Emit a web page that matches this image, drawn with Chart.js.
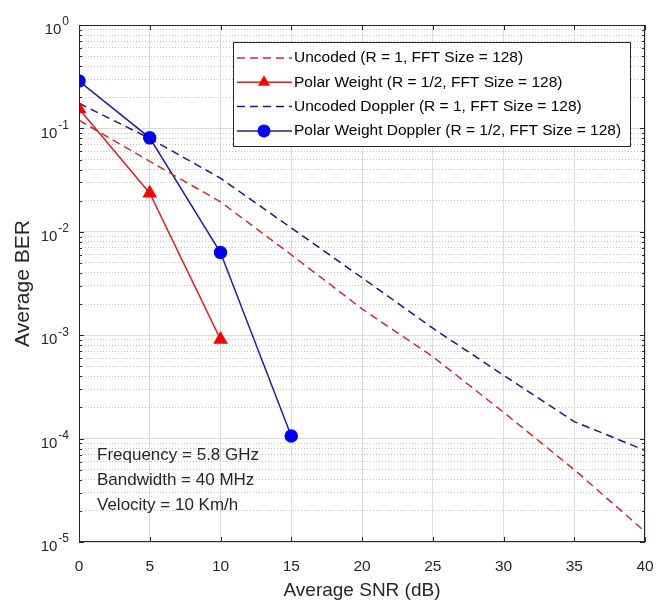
<!DOCTYPE html>
<html>
<head>
<meta charset="utf-8">
<script src="https://cdn.jsdelivr.net/npm/chart.js@4.4.0/dist/chart.umd.min.js"></script>
<style>
  body { margin: 0; background: #fff; }
  canvas { display: block; }
</style>
</head>
<body>
<canvas id="berChart" width="663" height="613"></canvas>
<script>
// values (BER vs SNR)
const snr = [0, 5, 10, 15, 20, 25, 30, 35, 40];
const uncoded = [0.12, 0.048, 0.0195, 0.006, 0.0018, 6.2e-4, 1.8e-4, 5e-5, 1.26e-5];
const uncodedDoppler = [0.175, 0.080, 0.033, 0.0109, 0.0036, 1.17e-3, 4.1e-4, 1.46e-4, 7.7e-5];
const polarSnr = [0, 5, 10];
const polarWeight = [0.155, 0.0236, 9.1e-4];
const polarDopplerSnr = [0, 5, 10, 15];
const polarWeightDoppler = [0.287, 0.081, 0.0063, 1.06e-4];

const yDecades = [0, -1, -2, -3, -4, -5];
const labels = [
  'Uncoded (R = 1, FFT Size = 128)',
  'Polar Weight (R = 1/2, FFT Size = 128)',
  'Uncoded Doppler (R = 1, FFT Size = 128)',
  'Polar Weight Doppler (R = 1/2, FFT Size = 128)'
];
const notes = ['Frequency = 5.8 GHz', 'Bandwidth = 40 MHz', 'Velocity = 10 Km/h'];

const FONT = "'Liberation Sans', Arial, sans-serif";
const TXT = '#262626';

// minor grid values 1..9 x 10^k for the log axis
const yGridValues = [];
for (let k = -5; k < 0; k++) {
  for (let m = 1; m < 10; m++) yGridValues.push(m * Math.pow(10, k));
}
yGridValues.push(1);

const isMajor = v => {
  const lg = Math.log10(v);
  return Math.abs(lg - Math.round(lg)) < 1e-6;
};

const pts = (xs, ys) => xs.map((x, i) => ({ x: x, y: ys[i] }));

const matlabLook = {
  id: 'matlabLook',
  afterDraw(chart) {
    const ctx = chart.ctx;
    const a = chart.chartArea;
    const xs = chart.scales.x;
    const ys = chart.scales.y;
    ctx.save();

    // box + inward ticks
    ctx.strokeStyle = TXT;
    ctx.lineWidth = 1;
    ctx.strokeRect(a.left + 0.5, a.top + 0.5, a.right - a.left - 1, a.bottom - a.top - 1);
    ctx.beginPath();
    for (let v = 0; v <= 40; v += 5) {
      const px = Math.round(xs.getPixelForValue(v)) + 0.5;
      ctx.moveTo(px, a.bottom); ctx.lineTo(px, a.bottom - 5);
      ctx.moveTo(px, a.top); ctx.lineTo(px, a.top + 5);
    }
    yGridValues.forEach(v => {
      const py = Math.round(ys.getPixelForValue(v)) + 0.5;
      const len = isMajor(v) ? 5 : 3;
      ctx.moveTo(a.left, py); ctx.lineTo(a.left + len, py);
      ctx.moveTo(a.right, py); ctx.lineTo(a.right - len, py);
    });
    ctx.stroke();

    // y tick labels 10^k
    ctx.fillStyle = TXT;
    ctx.textBaseline = 'middle';
    yDecades.forEach(k => {
      const py = ys.getPixelForValue(Math.pow(10, k));
      ctx.font = '12px ' + FONT;
      const ex = String(k);
      const ew = ctx.measureText(ex).width;
      ctx.textAlign = 'left';
      const right = 69;
      ctx.fillText(ex, right - ew, py - 3);
      ctx.font = '15px ' + FONT;
      ctx.textAlign = 'right';
      ctx.fillText('10', right - ew - 1, py + 5);
    });

    // annotation text
    ctx.font = '17px ' + FONT;
    ctx.textAlign = 'left';
    notes.forEach((t, i) => {
      ctx.fillText(t, a.left + 18, a.bottom - 87 + i * 25);
    });

    // legend box
    const lx = a.left + 154, ly = a.top + 17, lw = a.right - 15 - lx, lh = 104;
    ctx.fillStyle = '#fff';
    ctx.fillRect(lx, ly, lw, lh);
    ctx.strokeStyle = TXT;
    ctx.strokeRect(lx + 0.5, ly + 0.5, lw, lh);
    ctx.font = '15.5px ' + FONT;
    chart.data.datasets.forEach((ds, i) => {
      const ry = ly + 16 + i * 24.3;
      ctx.strokeStyle = ds.borderColor;
      ctx.lineWidth = ds.borderWidth;
      ctx.setLineDash(ds.borderDash || []);
      ctx.beginPath();
      ctx.moveTo(lx + 4, ry); ctx.lineTo(lx + 59, ry);
      ctx.stroke();
      ctx.setLineDash([]);
      if (ds.pointRadius > 0) {
        const cx = lx + 31, r = ds.pointRadius;
        ctx.fillStyle = ds.pointBackgroundColor;
        ctx.beginPath();
        if (ds.pointStyle === 'triangle') {
          for (let j = 0; j < 3; j++) {
            const ang = j * 2 * Math.PI / 3;
            const px = cx + Math.sin(ang) * r, py = ry - Math.cos(ang) * r;
            j === 0 ? ctx.moveTo(px, py) : ctx.lineTo(px, py);
          }
          ctx.closePath();
        } else {
          ctx.arc(cx, ry, r + 0.5, 0, Math.PI * 2);
        }
        ctx.fill();
      }
      ctx.fillStyle = '#000';
      ctx.fillText(ds.label, lx + 61, ry);
    });
    ctx.restore();
  }
};

new Chart(document.getElementById('berChart'), {
  type: 'line',
  data: {
    datasets: [{
      label: labels[0],
      data: pts(snr, uncoded),
      borderColor: 'rgb(200, 45, 45)',
      borderWidth: 1.5,
      borderDash: [8, 5],
      pointRadius: 0
    }, {
      label: labels[1],
      data: pts(polarSnr, polarWeight),
      borderColor: 'rgb(215, 35, 35)',
      borderWidth: 1.5,
      pointStyle: 'triangle',
      pointRadius: 7,
      pointBackgroundColor: '#ff0000',
      pointBorderColor: '#ff0000'
    }, {
      label: labels[2],
      data: pts(snr, uncodedDoppler),
      borderColor: 'rgb(25, 25, 120)',
      borderWidth: 1.5,
      borderDash: [8, 5],
      pointRadius: 0
    }, {
      label: labels[3],
      data: pts(polarDopplerSnr, polarWeightDoppler),
      borderColor: 'rgb(30, 30, 150)',
      borderWidth: 1.5,
      pointStyle: 'circle',
      pointRadius: 6,
      pointBackgroundColor: '#0000ff',
      pointBorderColor: '#0000ff'
    }]
  },
  options: {
    responsive: false,
    animation: false,
    events: [],
    layout: { padding: { top: 25, right: 18, left: 0, bottom: 0 } },
    plugins: { legend: { display: false }, tooltip: { enabled: false } },
    scales: {
      x: {
        type: 'linear',
        min: 0,
        max: 40,
        afterFit: s => { s.height = 71; s.paddingLeft = 0; s.paddingRight = 0; },
        ticks: { stepSize: 5, padding: 15, maxRotation: 0, color: TXT, font: { family: FONT, size: 15.5 } },
        grid: { color: '#dcdcdc', drawTicks: false },
        border: { display: false },
        title: { display: true, text: 'Average SNR (dB)', color: TXT, font: { family: FONT, size: 19 }, padding: { top: 0, bottom: 11 } }
      },
      y: {
        type: 'logarithmic',
        min: 1e-5,
        max: 1,
        afterFit: s => { s.width = 79; s.paddingTop = 0; s.paddingBottom = 0; },
        afterBuildTicks: s => { s.ticks = yGridValues.map(v => ({ value: v, major: isMajor(v) })); },
        ticks: { display: false },
        grid: {
          drawTicks: false,
          color: c => (c.tick && isMajor(c.tick.value)) ? '#dcdcdc' : '#c2c2c2'
        },
        border: {
          display: false,
          dash: c => (c.tick && isMajor(c.tick.value)) ? [] : [1, 2]
        },
        title: { display: true, text: 'Average BER', color: TXT, font: { family: FONT, size: 21 }, padding: { top: 11, bottom: 0 } }
      }
    }
  },
  plugins: [matlabLook]
});
</script>
</body>
</html>
